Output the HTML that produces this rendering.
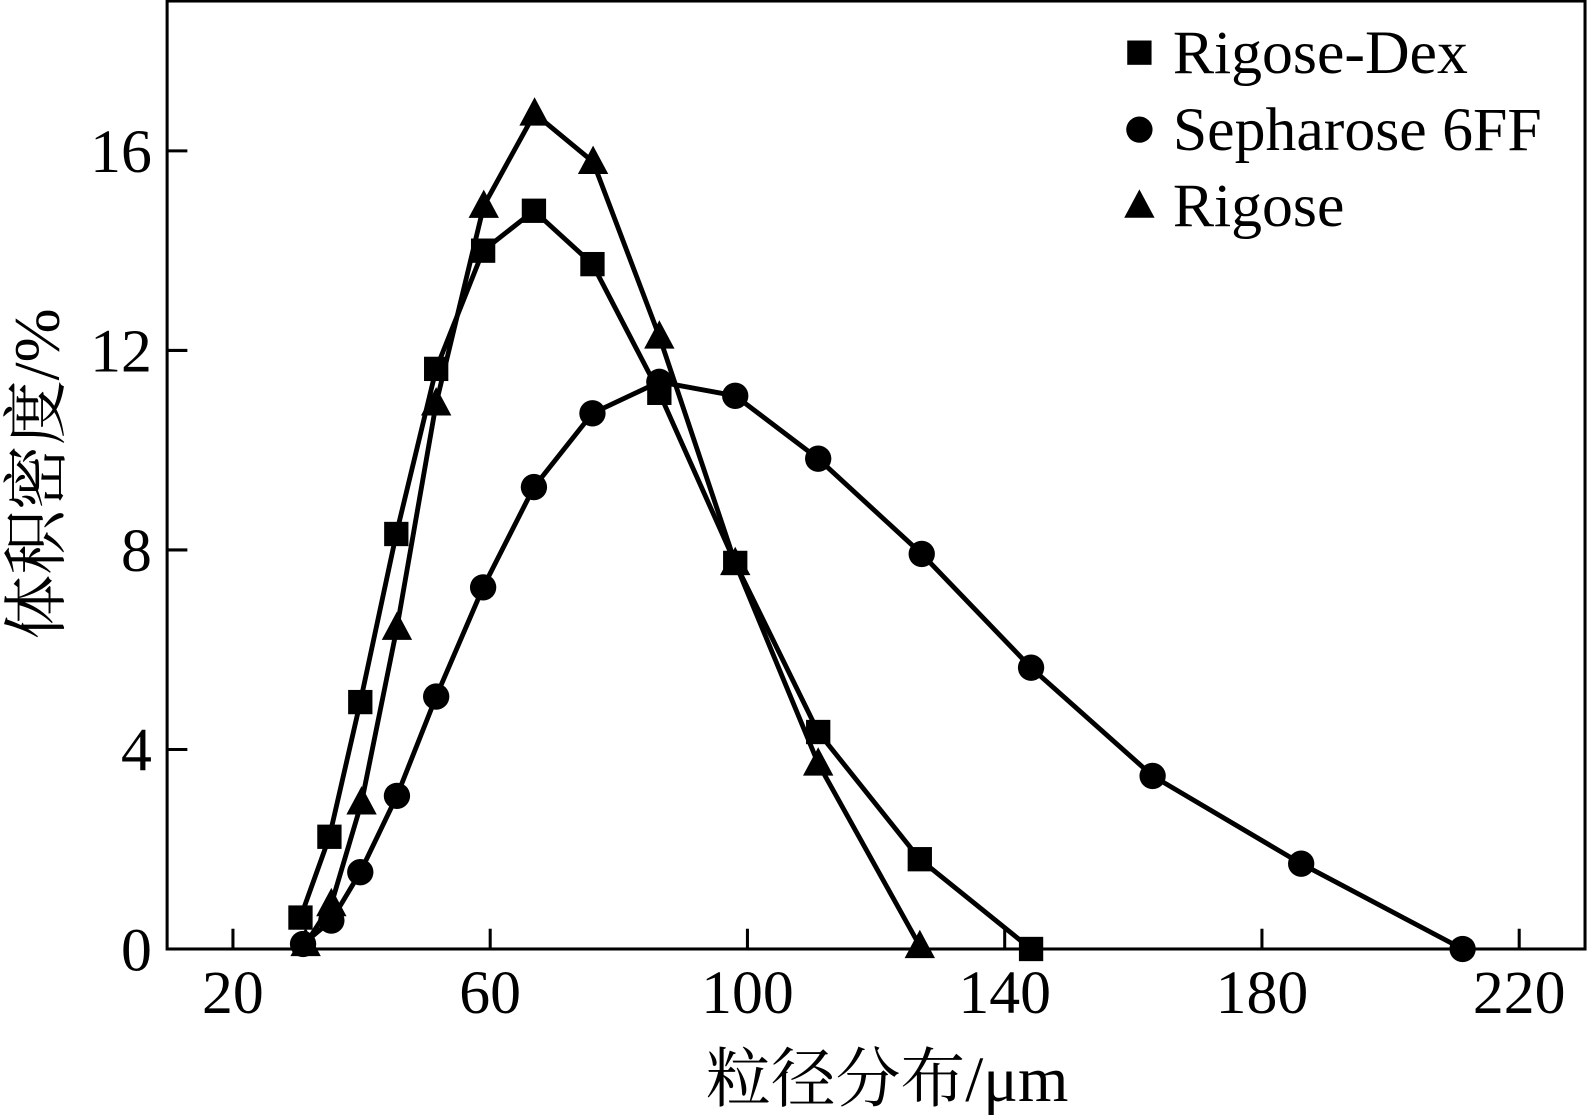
<!DOCTYPE html>
<html><head><meta charset="utf-8"><style>
html,body{margin:0;padding:0;background:#fff;}
svg{display:block;font-family:"Liberation Serif","Noto Serif CJK SC",serif;}
</style></head><body>
<svg id="chart" width="1587" height="1117" viewBox="0 0 1587 1117"><g id="root" transform="scale(1.0128)"></g></svg>
<script>
const xTicks=[20,60,100,140,180,220];
const yTicks=[0,4,8,12,16];
const dexX=[30.5,35,39.8,45.4,51.6,58.9,66.8,75.9,86.3,98.1,111,126.8,144.1];
const dexY=[0.63,2.25,4.95,8.32,11.63,14.0,14.8,13.73,11.15,7.74,4.35,1.8,0];
const sephX=[30.9,35.3,39.8,45.5,51.6,58.9,66.8,75.9,86.3,98.1,111,127.1,144.1,163,186.1,211.2];
const sephY=[0.1,0.57,1.54,3.07,5.06,7.25,9.26,10.74,11.37,11.09,9.83,7.92,5.64,3.47,1.71,0];
const rigX=[31.3,35.3,40,45.5,51.6,59,66.9,76,86.3,98.1,111,126.8];
const rigY=[0.1,0.9,2.94,6.44,10.94,14.9,16.75,15.78,12.28,7.74,3.72,0.06];
const NS='http://www.w3.org/2000/svg';
const svg=document.getElementById('root');
const L=165,R=1565,T=0,B=937;
function sx(v){return 230+(v-20)*6.35;}
function sy(v){return 937-v*49.25;}
function mk(tag,attrs,parent){const e=document.createElementNS(NS,tag);for(const k in attrs)e.setAttribute(k,attrs[k]);(parent||svg).appendChild(e);return e;}
const frame=mk('rect',{x:L,y:T+1,width:R-L,height:B-T-1,fill:'none',stroke:'#000','stroke-width':3});


xTicks.forEach(t=>{
  const l=mk('line',{x1:sx(t),x2:sx(t),y1:B,y2:B-20,stroke:'#000','stroke-width':3});
  
  
  const tx=mk('text',{x:sx(t),y:1000,'font-size':61,'text-anchor':'middle'});tx.textContent=t;
  
  
});
yTicks.forEach(t=>{
  const l=mk('line',{x1:L,x2:L+20,y1:sy(t),y2:sy(t),stroke:'#000','stroke-width':3});
  
  
  const tx=mk('text',{x:150,y:sy(t)+21,'font-size':61,'text-anchor':'end'});tx.textContent=t;
  
  
});
const xl=mk('text',{x:876,y:1087,'font-size':64,'text-anchor':'middle'});xl.textContent='粒径分布/μm';


const yl=mk('text',{x:0,y:0,'font-size':64,'text-anchor':'middle',transform:'translate(58,468) rotate(-90)'});yl.textContent='体积密度/%';


function marker(type,cx,cy,g){
  if(type==='sq')return mk('rect',{x:cx-12,y:cy-12,width:24,height:24,fill:'#000'},g);
  if(type==='ci')return mk('circle',{cx:cx,cy:cy,r:13,fill:'#000'},g);
  return mk('polygon',{points:`${cx},${cy-16} ${cx-15},${cy+12} ${cx+15},${cy+12}`,fill:'#000'},g);
}
function series(xs,ys,type,name){
  const g=mk('g',{});
  
  
  const p=mk('polyline',{points:xs.map((x,i)=>sx(x)+','+sy(ys[i])).join(' '),fill:'none',stroke:'#000','stroke-width':4.8,'stroke-linejoin':'round'},g);
  
  
  xs.forEach((x,i)=>{const m=marker(type,sx(x),sy(ys[i]),g);
    
    });
}
series(sephX,sephY,'ci','sepharose-series');
series(dexX,dexY,'sq','rigose-dex-series');
series(rigX,rigY,'tr','rigose-series');
const lg=mk('g',{});


[['sq',52,'Rigose-Dex'],['ci',128,'Sepharose 6FF'],['tr',203,'Rigose']].forEach(([t,y,txt])=>{
  const m=marker(t,1125,y,lg);
  
  
  const tx=mk('text',{x:1158,y:y+20,'font-size':61},lg);tx.textContent=txt;
  
  
});
</script>
</body></html>
